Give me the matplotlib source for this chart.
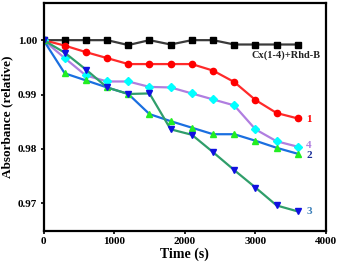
import numpy as np
import matplotlib
matplotlib.use('Agg')
import matplotlib.pyplot as plt

# ---------------- data ---------------- #
time_s = [0, 300, 600, 900, 1200, 1500, 1800, 2100, 2400, 2700, 3000, 3300, 3600]

blank = [1.000, 1.000, 1.000, 1.000, 0.9991, 1.000, 0.9992, 1.000, 1.000, 0.9992, 0.9992, 0.9992, 0.9992]
cx1 = [1.000, 0.9990, 0.9978, 0.9967, 0.9956, 0.9956, 0.9956, 0.9956, 0.9944, 0.9923, 0.9890, 0.9866, 0.9856]
cx2 = [1.000, 0.9939, 0.9926, 0.9913, 0.9901, 0.9864, 0.9851, 0.9839, 0.9827, 0.9827, 0.9815, 0.9802, 0.9791]
cx3 = [1.000, 0.9977, 0.9946, 0.9913, 0.9901, 0.9902, 0.9836, 0.9826, 0.9794, 0.9761, 0.9729, 0.9696, 0.9685]
cx4 = [1.000, 0.9967, 0.9935, 0.9924, 0.9924, 0.9914, 0.9913, 0.9902, 0.9891, 0.9880, 0.9836, 0.9814, 0.9804]

series_labels = ['Cx(1-4)+Rhd-B', '1', '2', '3', '4']

plt.rcParams['font.family'] = ['Liberation Serif', 'DejaVu Serif']
plt.rcParams['font.weight'] = 'bold'

fig = plt.figure(figsize=(3.4, 2.64), dpi=100)
ax = fig.add_axes([0.128, 0.125, 0.831, 0.865])

ms = 4.5
ax.plot(time_s, blank, '-s', color='#3a3a3a', mfc='black', mec='black', ms=ms - 0.5, lw=1.6)
ax.plot(time_s, cx1, '-o', color='#ff2a2a', mfc='red', mec='red', ms=ms, lw=1.6)
ax.plot(time_s, cx4, '-D', color='#b07ee0', mfc='cyan', mec='cyan', ms=ms - 0.7, lw=1.6)
ax.plot(time_s, cx2, '-^', color='#1a6fe0', mfc='#22ee22', mec='#22ee22', ms=ms, lw=1.6)
ax.plot(time_s, cx3, '-v', color='#2f9e6a', mfc='#1010e0', mec='#1010e0', ms=ms, lw=1.6)

# end labels
ax.text(2950, 0.9972, series_labels[0], fontsize=7.5, fontweight='bold', color='#222222', va='center')
ax.text(3720, cx1[-1] - 0.0002, series_labels[1], fontsize=8, fontweight='bold', color='red', va='center')
ax.text(3720, cx2[-1] - 0.0003, series_labels[2], fontsize=8, fontweight='bold', color='#1c2f99', va='center')
ax.text(3720, cx3[-1], series_labels[3], fontsize=8, fontweight='bold', color='#3a7fb8', va='center')
ax.text(3720, cx4[-1] + 0.0002, series_labels[4], fontsize=8, fontweight='bold', color='#b07ee0', va='center')

ax.set_xlim(0, 4000)
ax.set_ylim(0.9649, 1.0069)
ax.set_xticks([0, 1000, 2000, 3000, 4000])
ax.set_yticks([0.97, 0.98, 0.99, 1.00])
ax.set_yticklabels(['0.97', '0.98', '0.99', '1.00'])

ax.tick_params(direction='out', length=2.5, width=1.2, labelsize=8, pad=2)
for lab in ax.get_xticklabels() + ax.get_yticklabels():
    lab.set_fontweight('bold')
for sp in ax.spines.values():
    sp.set_linewidth(1.6)

ax.set_xlabel('Time (s)', fontsize=10, fontweight='bold', labelpad=1)
ax.set_ylabel('Absorbance (relative)', fontsize=9.5, fontweight='bold', labelpad=3)

plt.savefig('out.png', dpi=100)
